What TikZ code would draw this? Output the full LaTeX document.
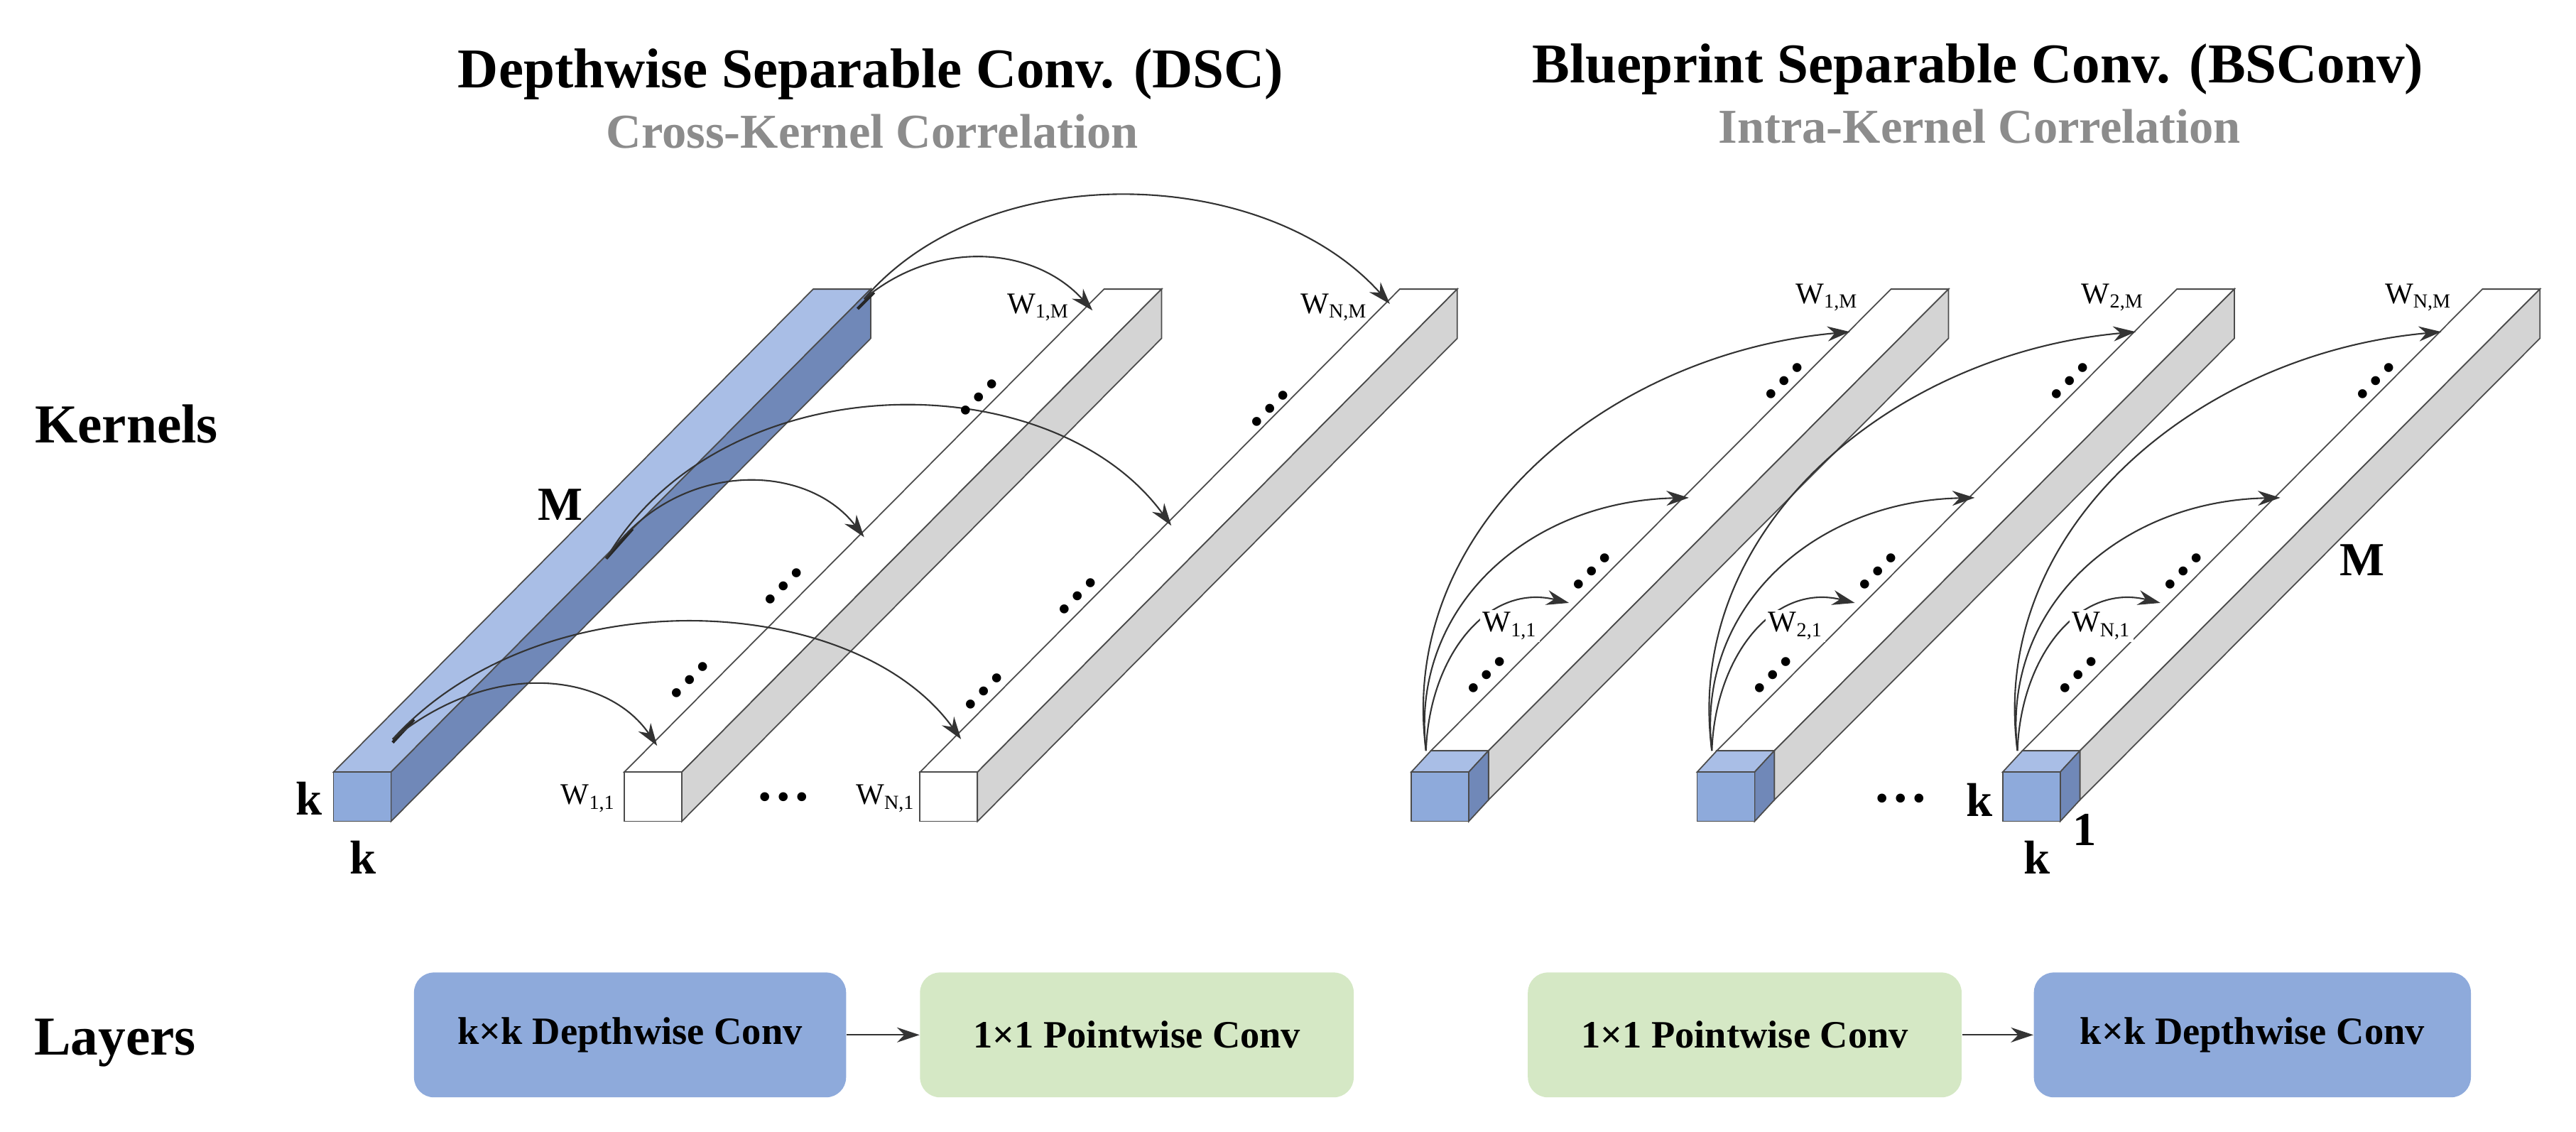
\documentclass[tikz,border=0pt]{standalone}
\usepackage{fontspec}
\setmainfont{Liberation Serif}
\usetikzlibrary{arrows.meta}
\definecolor{bfront}{HTML}{8EAADB}
\definecolor{btop}{HTML}{A9BEE6}
\definecolor{bside}{HTML}{7088B8}
\definecolor{wside}{HTML}{D4D4D4}
\definecolor{gbox}{HTML}{D5E8C5}
\definecolor{bbox}{HTML}{8EAADB}
\newcommand{\prism}[7]{%
\filldraw[edge,fill=#6] (#1,#2)--({#1+35},#2)--({#1+35+#3},{#2+#4})--({#1+#3},{#2+#4})--cycle;
\filldraw[edge,fill=#7] ({#1+35},#2)--({#1+35},{#2+30})--({#1+35+#3},{#2+30+#4})--({#1+35+#3},{#2+#4})--cycle;
\filldraw[edge,fill=#5] (#1,#2) rectangle ({#1+35},{#2+30});}
\begin{document}
\begin{tikzpicture}[x=0.02313cm,y=-0.02313cm,
 edge/.style={draw=black!70,line width=0.5pt},
 arr/.style={-{Stealth[length=9pt,width=6pt]},black!80,line width=0.6pt},
 dts/.style={rotate=45,font=\bfseries\fontsize{22}{22}\selectfont,inner sep=0pt},
 wl/.style={font=\fontsize{12}{12}\selectfont,inner sep=0pt},
 big/.style={font=\bfseries\fontsize{19}{19}\selectfont,inner sep=0pt},
 lay/.style={rounded corners=8pt,inner sep=0pt,font=\bfseries\fontsize{15.5}{16}\selectfont}]
\useasboundingbox (0,0) rectangle (1568,689);
% titles
\node[font=\bfseries\fontsize{22.5}{23}\selectfont] (t1) at (530,45) {Depthwise Separable Conv. (DSC)};
\node[font=\bfseries\fontsize{19.5}{20}\selectfont,text=black!45] (s1) at (531,80) {Cross-Kernel Correlation};
\node[font=\bfseries\fontsize{22.5}{23}\selectfont] (t2) at (1204,42) {Blueprint Separable Conv. (BSConv)};
\node[font=\bfseries\fontsize{19.5}{20}\selectfont,text=black!45] (s2) at (1205,77) {Intra-Kernel Correlation};
\node[font=\bfseries\fontsize{22}{22}\selectfont] (kern) at (77,258) {Kernels};
\node[font=\bfseries\fontsize{22}{22}\selectfont] (lays) at (70,635) {Layers};
% left bars
\prism{203}{470}{292}{-294}{bfront}{btop}{bside}
\prism{380}{470}{292}{-294}{white}{white}{wside}
\prism{560}{470}{292}{-294}{white}{white}{wside}
% right bars
\foreach \x in {859,1033,1219}{
 \prism{\x+12}{457}{280}{-281}{white}{white}{wside}
 \prism{\x}{470}{12}{-13}{bfront}{btop}{bside}
}
% left arrows
\coordinate (a0) at (526,182);
\coordinate (a1) at (665,189);
\coordinate (a2) at (846,185);
\coordinate (b0) at (369,340);
\coordinate (b1) at (526,327);
\coordinate (b2) at (713,320);
\coordinate (c0) at (239,450);
\coordinate (c1) at (400,454);
\coordinate (c2) at (585,450);
\draw[black!85,line width=1.2pt] (522,188)--(532,178) (369,340)--(385,322) (239,452)--(252,438);
\draw[arr] (a0) .. controls (570,145) and (630,150) .. (a1);
\draw[arr] (a0) .. controls (600,95) and (770,100) .. (a2);
\draw[arr] (b0) .. controls (410,280) and (490,280) .. (b1);
\draw[arr] (b0) .. controls (440,220) and (640,220) .. (b2);
\draw[arr] (c0) .. controls (300,400) and (370,410) .. (c1);
\draw[arr] (c0) .. controls (330,350) and (520,360) .. (c2);
% left dots and labels
\foreach \p in {(596,242),(477,357),(420,414),(773,249),(656,363),(599,421)}
 \node[dts] at \p {…};
\node[dts,rotate=-45] (dd1) at (477,485) {…};
\node[wl] (w11) at (358,486) {W\textsubscript{1,1}};
\node[wl] (wn1) at (539,486) {W\textsubscript{N,1}};
\node[wl] (w1m) at (632,187) {W\textsubscript{1,M}};
\node[wl] (wnm) at (812,187) {W\textsubscript{N,M}};
\node[big] (M1) at (341,307) {M};
\node[big] (k1) at (188,486) {k};
\node[big] (k2) at (221,522) {k};
% right arrows, dots, labels
\foreach \o/\i in {0/1,174/2,360/N}{
 \begin{scope}[xshift=\o*0.02313cm]
 \coordinate (r0) at (868,457);
 \coordinate (r1) at (1126,202);
 \coordinate (r2) at (1028,303);
 \coordinate (r3) at (955,367);
 \draw[arr] (r0) .. controls (850,320) and (980,215) .. (r1);
 \draw[arr] (r0) .. controls (858,370) and (930,305) .. (r2);
 \draw[arr] (r0) .. controls (870,400) and (905,355) .. (r3);
 \node[dts] at (1086,232) {…};
 \node[dts] at (969,348) {…};
 \node[dts] at (905,411) {…};
 \node[wl,fill=white,inner sep=1pt] at (919,381) {W\textsubscript{\i,1}};
 \node[wl] at (1112,181) {W\textsubscript{\i,M}};
 \end{scope}
}
\node[dts,rotate=-45] (dd2) at (1157,486) {…};
\node[big] (M2) at (1438,341) {M};
\node[big] (k3) at (1205,487) {k};
\node[big] (k4) at (1240,522) {k};
\node[big] (one) at (1269,505) {1};
% layers
\node[lay,fill=bbox,minimum width=263*0.02313cm,minimum height=76*0.02313cm] (L1) at (383.5,630) {k\texttimes k Depthwise Conv};
\node[lay,fill=gbox,minimum width=264*0.02313cm,minimum height=76*0.02313cm] (L2) at (692,630) {1\texttimes 1 Pointwise Conv};
\node[lay,fill=gbox,minimum width=264*0.02313cm,minimum height=76*0.02313cm] (L3) at (1062,630) {1\texttimes 1 Pointwise Conv};
\node[lay,fill=bbox,minimum width=266*0.02313cm,minimum height=76*0.02313cm] (L4) at (1371,630) {k\texttimes k Depthwise Conv};
\draw[arr] (L1) -- (L2);
\draw[arr] (L3) -- (L4);
\end{tikzpicture}
\end{document}
